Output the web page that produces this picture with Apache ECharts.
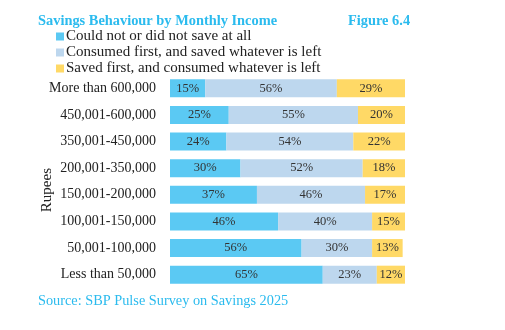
<!DOCTYPE html>
<html><head><meta charset="utf-8">
<script src="https://cdn.jsdelivr.net/npm/echarts@6/dist/echarts.min.js"></script>
<style>html,body{margin:0;padding:0;background:#fff}#c{width:505px;height:330px}</style>
</head><body><div id="c"></div>
<script>
const categories = ["More than 600,000","450,001-600,000","350,001-450,000","200,001-350,000","150,001-200,000","100,001-150,000","50,001-100,000","Less than 50,000"];
const couldNotSave = [15,25,24,30,37,46,56,65];
const consumedFirst = [56,55,54,52,46,40,30,23];
const savedFirst = [29,20,22,18,17,15,13,12];
const seriesNames = ["Could not or did not save at all","Consumed first, and saved whatever is left","Saved first, and consumed whatever is left"];
const colors = ["#5bc9f3","#bdd7ee","#ffd966"];
const FONT = "Liberation Serif";
const chart = echarts.init(document.getElementById('c'));
const mk = (name, data, color) => ({
  name, type:'bar', stack:'s', data, barWidth:18,
  itemStyle:{color},
  label:{show:true, position:'inside', formatter:'{c}%', color:'#333', fontFamily:FONT, fontSize:12.5}
});
chart.setOption({
  animation:false,
  textStyle:{fontFamily:FONT},
  title:[
    {text:'Savings Behaviour by Monthly Income', left:33, top:9, textStyle:{fontFamily:FONT, fontSize:14.4, fontWeight:'bold', color:'#2bbbee'}},
    {text:'Figure 6.4', left:343, top:9, textStyle:{fontFamily:FONT, fontSize:14.4, fontWeight:'bold', color:'#2bbbee'}},
    {text:'Source: SBP Pulse Survey on Savings 2025', left:33, top:289, textStyle:{fontFamily:FONT, fontSize:14.3, fontWeight:'normal', color:'#2bbbee'}}
  ],
  legend:{orient:'vertical', left:51, top:24, itemGap:1, itemWidth:8, itemHeight:8, icon:'rect',
    textStyle:{fontFamily:FONT, fontSize:15, color:'#222', padding:[0,0,0,-3]}, data:seriesNames},
  graphic:[{type:'text', left:40, top:168, rotation:Math.PI/2,
    style:{text:'Rupees', fontFamily:FONT, fontSize:15, fill:'#222'}}],
  grid:{left:170, right:100, top:75, bottom:42},
  xAxis:{type:'value', min:0, max:100, show:false},
  yAxis:{type:'category', data:categories, inverse:true,
    axisLine:{show:false}, axisTick:{show:false},
    axisLabel:{fontFamily:FONT, fontSize:14, color:'#222', margin:14}},
  series:[mk(seriesNames[0], couldNotSave, colors[0]), mk(seriesNames[1], consumedFirst, colors[1]), mk(seriesNames[2], savedFirst, colors[2])]
});
</script></body></html>
